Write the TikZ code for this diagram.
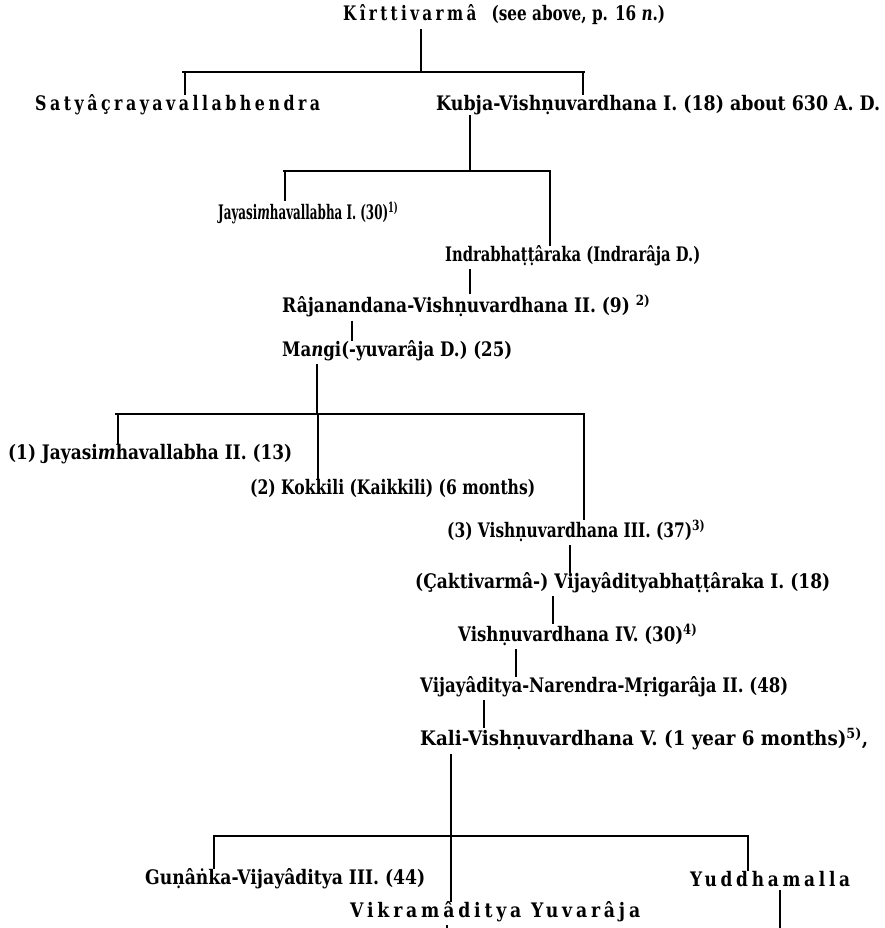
\documentclass[tikz,border=0pt]{standalone}
\usepackage{fontspec}
\usepackage{graphicx}
\setmainfont{DejaVu Serif}
\newfontfamily\spacedfont[LetterSpace=22]{DejaVu Serif}
\newcommand\fitw[2]{\resizebox{#1pt}{\height}{#2}}
\newcommand\fnote[1]{\textsuperscript{#1)}}
\begin{document}
\begin{tikzpicture}[x=1pt,y=-1pt,
  lbl/.style={inner sep=0pt,anchor=west,font=\bfseries\fontsize{20}{22}\selectfont},
  conn/.style={line width=1.2pt},
  bar/.style={line width=2pt}]
\useasboundingbox (0,0) rectangle (884,928);
% level 0
\node[lbl] (t) at (343,15) {\fitw{322}{{\spacedfont\bfseries Kîrttivarmâ}\quad(see above, p. 16 \textit{n}.)}};
\coordinate (b1l) at (182,72); \coordinate (b1r) at (585,72); \coordinate (b1m) at (421,72);
\coordinate (d1a) at (185,72); \coordinate (d1b) at (583,72);
\draw[bar] (b1l) -- (b1r);
\draw[conn] ([yshift=-4pt]t.south -| b1m) -- (b1m);
\node[lbl] (sat) at (35,105) {\fitw{285}{{\spacedfont\bfseries Satyâçrayavallabhendra}}};
\node[lbl] (kub) at (436,105) {\fitw{444}{Kubja-Vishṇuvardhana I. (18) about 630 A. D.}};
\draw[conn] (d1a) -- (d1a |- sat.north);
\draw[conn] (d1b) -- (d1b |- kub.north);
% level 2
\coordinate (b2l) at (283,171); \coordinate (b2r) at (551,171); \coordinate (b2m) at (470,171);
\coordinate (d2a) at (285,171); \coordinate (d2b) at (550,171);
\draw[bar] (b2l) -- (b2r);
\draw[conn] (kub.south -| b2m) -- (b2m);
\node[lbl] (jay1) at (218,213) {\fitw{180}{Jayasi\textit{m}havallabha I. (30)\fnote{1}}};
\node[lbl] (ind) at (445,256) {\fitw{255}{Indrabhaṭṭâraka (Indrarâja D.)}};
\draw[conn] (d2a) -- (d2a |- jay1.north);
\draw[conn] (d2b) -- (d2b |- ind.north);
% chain
\coordinate (c1) at (470,0);
\node[lbl] (raj) at (282,306) {\fitw{368}{Râjanandana-Vishṇuvardhana II. (9) \fnote{2}}};
\draw[conn] ([yshift=-3pt]ind.south -| c1) -- (raj.north -| c1);
\coordinate (c2) at (352,0);
\node[lbl] (man) at (282,351) {\fitw{230}{Ma\textit{n}gi(-yuvarâja D.) (25)}};
\draw[conn] ([yshift=-3pt]raj.south -| c2) -- (man.north -| c2);
% level 3
\coordinate (b3l) at (115,414); \coordinate (b3r) at (585,414); \coordinate (b3m) at (317,414);
\coordinate (d3a) at (118,414); \coordinate (d3b) at (318,414); \coordinate (d3c) at (584,414);
\draw[bar] (b3l) -- (b3r);
\draw[conn] ([yshift=-3pt]man.south -| b3m) -- (b3m);
\node[lbl] (j2) at (8,454) {\fitw{284}{(1) Jayasi\textit{m}havallabha II. (13)}};
\node[lbl] (kok) at (250,488) {\fitw{285}{(2) Kokkili (Kaikkili) (6 months)}};
\node[lbl] (v3) at (447,531) {\fitw{258}{(3) Vishṇuvardhana III. (37)\fnote{3}}};
\draw[conn] (d3a) -- (d3a |- j2.north);
\draw[conn] (d3b) -- (d3b |- kok.north);
\draw[conn] (d3c) -- (d3c |- v3.north);
% chain 2
\coordinate (c3) at (570,0);
\node[lbl] (cak) at (415,583) {\fitw{415}{(Çaktivarmâ-) Vijayâdityabhaṭṭâraka I. (18)}};
\draw[conn] ([yshift=-3pt]v3.south -| c3) -- (cak.north -| c3);
\coordinate (c4) at (553,0);
\node[lbl] (v4) at (458,635) {\fitw{239}{Vishṇuvardhana IV. (30)\fnote{4}}};
\draw[conn] ([yshift=-3pt]cak.south -| c4) -- (v4.north -| c4);
\coordinate (c5) at (516,0);
\node[lbl] (nar) at (420,687) {\fitw{368}{Vijayâditya-Narendra-Mṛigarâja II. (48)}};
\draw[conn] ([yshift=-3pt]v4.south -| c5) -- (nar.north -| c5);
\coordinate (c6) at (484,0);
\node[lbl] (kal) at (420,739) {\fitw{448}{Kali-Vishṇuvardhana V. (1 year 6 months)\fnote{5},}};
\draw[conn] ([yshift=-3pt]nar.south -| c6) -- (kal.north -| c6);
% level 4
\coordinate (b4l) at (213,836); \coordinate (b4r) at (749,836); \coordinate (b4m) at (451,836);
\coordinate (d4a) at (214,836); \coordinate (d4c) at (748,836);
\draw[bar] (b4l) -- (b4r);
\draw[conn] ([yshift=-3pt]kal.south -| b4m) -- (b4m);
\node[lbl] (gun) at (145,879) {\fitw{280}{Guṇâṅka-Vijayâditya III. (44)}};
\node[lbl] (yud) at (690,879) {\fitw{160}{{\spacedfont\bfseries Yuddhamalla}}};
\node[lbl] (vik) at (350,912) {\fitw{290}{{\spacedfont\bfseries Vikramâditya Yuvarâja}}};
\draw[conn] (d4a) -- (d4a |- gun.north);
\draw[conn] (b4m) -- (b4m |- vik.north);
\draw[conn] (d4c) -- (d4c |- yud.north);
\coordinate (e1) at (447,928); \coordinate (e2) at (780,928);
\draw[conn] ([yshift=-3pt]vik.south -| e1) -- (e1);
\draw[conn] ([yshift=-3pt]yud.south -| e2) -- (e2);
\end{tikzpicture}
\end{document}
